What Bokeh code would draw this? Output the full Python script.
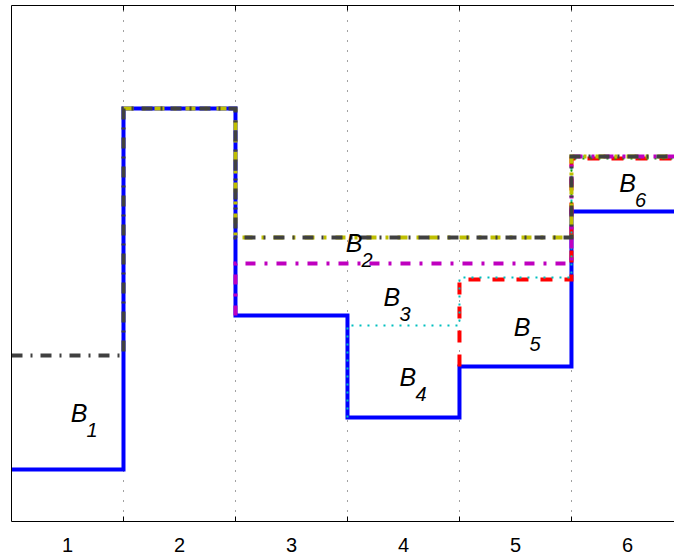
import math
from bokeh.plotting import figure
from bokeh.models import FixedTicker, LinearAxis, Range1d, ColumnDataSource
from bokeh.core.properties import value
from bokeh.embed import file_html
from bokeh.resources import INLINE

# ---- data ----
categories = [1, 2, 3, 4, 5, 6]
boundaries = [1.5, 2.5, 3.5, 4.5, 5.5]
nan = float("nan")
blue_vals = [0.52, 4.13, 2.06, 1.04, 1.55, 3.10]
gray_vals = [1.66, 4.13, 2.84, 2.84, 2.84, 3.65]
yellow_vals = [nan, 4.13, 2.84, 2.84, 2.84, 3.65]
magenta_vals = [nan, nan, 2.58, 2.58, 2.58, 3.65]
cyan_vals = [nan, nan, nan, 1.96, 2.44, 3.65]
red_vals = [nan, nan, nan, nan, 2.42, 3.63]
green_vals = [nan, nan, nan, nan, nan, 3.63]

label_names = ["1", "2", "3", "4", "5", "6"]
label_x = [1.103, 3.558, 3.897, 4.040, 5.058, 6.0]
label_y = [1.085, 2.785, 2.245, 1.45, 1.95, 3.385]


def step_path(vals, base):
    xs, ys = [], []
    started = False
    for i, v in enumerate(vals):
        if math.isnan(v):
            continue
        x0 = categories[i] - 0.5
        x1 = categories[i] + 0.5
        if not started:
            if base is not None:
                xs.append(x0); ys.append(base[i])
            started = True
        xs.append(x0); ys.append(v)
        xs.append(x1); ys.append(v)
    return xs, ys


p = figure(width=674, height=558, output_backend="svg", toolbar_location=None,
           x_range=Range1d(0.5, 6.42), y_range=Range1d(0, 5.16),
           min_border_left=11, min_border_right=0, min_border_top=5,
           min_border_bottom=37)
p.outline_line_color = None
p.background_fill_color = "white"
p.border_fill_color = "white"
p.yaxis.ticker = FixedTicker(ticks=[])
p.yaxis.major_tick_in = 0
p.yaxis.major_tick_out = 0
p.yaxis.minor_tick_in = 0
p.yaxis.minor_tick_out = 0
p.yaxis.axis_line_color = "black"
p.yaxis.major_label_text_font_size = "0px"
p.ygrid.visible = False
p.xaxis.ticker = FixedTicker(ticks=categories, minor_ticks=boundaries)
p.xaxis.major_tick_in = 0
p.xaxis.major_tick_out = 0
p.xaxis.minor_tick_in = 5
p.xaxis.minor_tick_out = 0
p.xaxis.minor_tick_line_color = "black"
p.xaxis.axis_line_color = "black"
p.xaxis.major_label_text_font = "Liberation Sans"
p.xaxis.major_label_text_font_size = "20px"
p.xaxis.major_label_text_color = "black"
p.xaxis.major_label_standoff = 16
p.xgrid.ticker = FixedTicker(ticks=boundaries)
p.xgrid.grid_line_color = "#444444"
p.xgrid.grid_line_dash = "1 9"
p.xgrid.grid_line_width = 1

top_axis = LinearAxis(ticker=FixedTicker(ticks=[], minor_ticks=boundaries),
                      axis_line_color="black", minor_tick_in=5, minor_tick_out=0,
                      minor_tick_line_color="black", major_tick_in=0, major_tick_out=0,
                      major_label_text_font_size="0px")
p.add_layout(top_axis, "above")

styles = [
    (blue_vals, None, "#0000ff", 4, "solid"),
    (red_vals, blue_vals, "#ff0000", 4, "12 12"),
    (cyan_vals, blue_vals, "#00bfbf", 2, "2 6"),
    (green_vals, blue_vals, "#00a000", 2, "2 6"),
    (magenta_vals, blue_vals, "#bf00bf", 4, "10 9 3 9"),
    (yellow_vals, blue_vals, "#bfbf00", 4, "10 9 3 9"),
    (gray_vals, None, "#404040", 4, "11 8 2 8"),
]
for vals, base, color, w, dash in styles:
    xs, ys = step_path(vals, base)
    p.line(xs, ys, line_color=color, line_width=w, line_dash=dash,
           line_join="miter")

src = ColumnDataSource(dict(x=label_x, y=label_y, sub=label_names,
                            b=["B"] * len(label_names)))
p.text(x="x", y="y", text="b", source=src, text_font=value("Liberation Sans"),
       text_font_style="italic", text_font_size="25px", text_align="center",
       text_baseline="middle", text_color="black")
p.text(x="x", y="y", text="sub", source=src, text_font=value("Liberation Sans"),
       text_font_style="italic", text_font_size="20px", text_align="center",
       text_baseline="middle", text_color="black", x_offset=13, y_offset=17)

open("out.html", "w").write(file_html(p, INLINE))
